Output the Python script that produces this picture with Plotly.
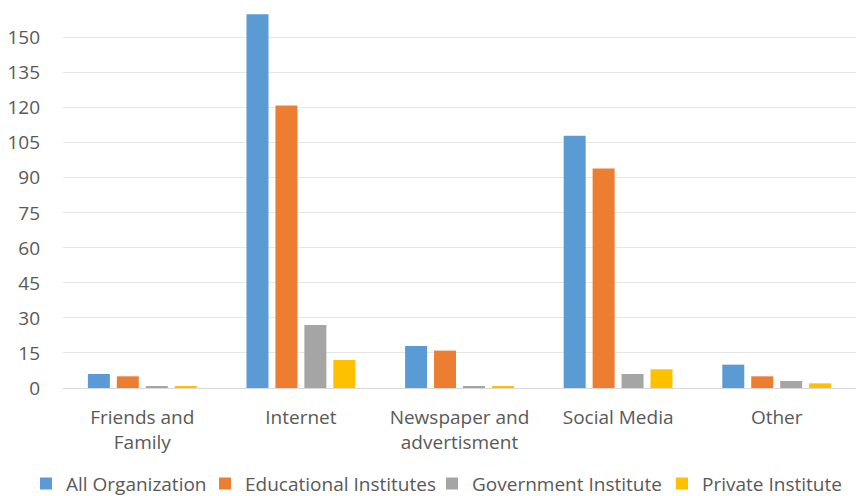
import plotly.graph_objects as go

categories = ["Friends and<br>Family", "Internet", "Newspaper and<br>advertisment", "Social Media", "Other"]
series_names = ["All Organization", "Educational Institutes", "Government Institute", "Private Institute"]
all_org = [6, 160, 18, 108, 10]
educational = [5, 121, 16, 94, 5]
government = [0.7, 27, 0.7, 6, 3]
private = [0.7, 12, 0.7, 8, 2]
colors = ["#5B9BD5", "#ED7D31", "#A5A5A5", "#FFC000"]
y_ticks = [0, 15, 30, 45, 60, 75, 90, 105, 120, 135, 150]
legend_x = [26 / 856, 205 / 856, 432 / 856, 662 / 856]

fig = go.Figure()
legend_ids = ["legend", "legend2", "legend3", "legend4"]
for name, vals, c, lid in zip(series_names, [all_org, educational, government, private], colors, legend_ids):
    fig.add_trace(go.Bar(x=categories, y=vals, name=name, legend=lid, showlegend=True,
                         marker=dict(color=c, line=dict(width=0))))

font_fam = "Open Sans, Liberation Sans, sans-serif"
legend_common = dict(orientation="h", xref="container", xanchor="left", y=-0.25, yanchor="middle",
                     font=dict(size=19, color="#595959"), bgcolor="rgba(0,0,0,0)")
layout_legends = {lid: dict(x=lx, **legend_common) for lid, lx in zip(legend_ids, legend_x)}

fig.update_layout(
    width=856, height=496,
    showlegend=True,
    margin=dict(l=63, r=0, t=5, b=108, autoexpand=False),
    paper_bgcolor="white", plot_bgcolor="white",
    barmode="group", bargap=0.27, bargroupgap=0.24,
    font=dict(family=font_fam, size=19, color="#595959"),
    xaxis=dict(tickfont=dict(size=19, color="#595959"), showline=True, linecolor="#d9d9d9", linewidth=1,
               ticks="", ticklabelstandoff=12),
    yaxis=dict(range=[0, 164], tickvals=y_ticks, showgrid=True, gridcolor="#e6e6e6", gridwidth=1,
               zeroline=False, tickfont=dict(size=19, color="#595959"), ticklen=0, ticks="", ticklabelstandoff=22),
    **layout_legends,
)
fig.write_html("out.html", config={"displayModeBar": False})

with open("out.html", "r", encoding="utf-8") as f:
    html = f.read()
html = html.replace("<head>", "<head><style>html,body{margin:0;padding:0;overflow:hidden;}</style>", 1)
with open("out.html", "w", encoding="utf-8") as f:
    f.write(html)
